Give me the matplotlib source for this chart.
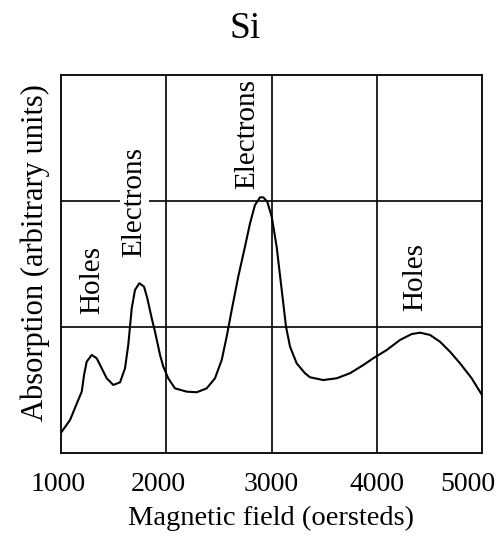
import matplotlib
matplotlib.use('Agg')

import matplotlib.pyplot as plt
import matplotlib.transforms as mtrans

# curve: magnetic field (oersteds) vs absorption (arb.)
field = [1000, 1086, 1164, 1197, 1219, 1244, 1292, 1339, 1387, 1434,
         1497, 1561, 1608, 1639, 1672, 1703, 1744, 1789, 1820, 1862,
         1893, 1941, 1972, 2019, 2083, 2194, 2289, 2384, 2463, 2527,
         2574, 2622, 2684, 2748, 2796, 2843, 2891, 2922, 2960, 3002,
         3049, 3097, 3138, 3176, 3239, 3318, 3366, 3492, 3619, 3746,
         3872, 3967, 4094, 4221, 4332, 4411, 4506, 4601, 4696, 4791,
         4902, 5000]
absorb = [0.161, 0.262, 0.421, 0.487, 0.619, 0.725, 0.778, 0.752, 0.672, 0.593,
          0.540, 0.561, 0.672, 0.857, 1.148, 1.294, 1.347, 1.320, 1.228, 1.069,
          0.963, 0.778, 0.685, 0.593, 0.513, 0.487, 0.482, 0.513, 0.593, 0.738,
          0.923, 1.135, 1.399, 1.637, 1.823, 1.968, 2.029, 2.029, 1.994, 1.875,
          1.637, 1.294, 1.002, 0.844, 0.712, 0.633, 0.601, 0.579, 0.593, 0.633,
          0.698, 0.752, 0.817, 0.897, 0.944, 0.955, 0.937, 0.883, 0.804, 0.712,
          0.593, 0.460]

xticks = [1000, 2000, 3000, 4000, 5000]
xtick_labels = ['1000', '2000', '3000', '4000', '5000']
ygrid = [1, 2]

labels = ['Holes', 'Electrons', 'Electrons', 'Holes']
label_x = [1295, 1694, 2767, 4363]
label_y = [1.37, 1.99, 2.53, 1.40]

plt.rcParams['font.family'] = ['Liberation Serif', 'DejaVu Serif']

fig = plt.figure(figsize=(5.0, 5.37), dpi=100)
ax = fig.add_axes([0.122, 0.1564, 0.842, 0.704])

ax.plot(field, absorb, 'k-', lw=1.5, solid_joinstyle='round')

ax.set_xlim(1000, 5000)
ax.set_ylim(0, 3)
for xv in xticks[1:-1]:
    ax.axvline(xv, color='k', lw=1.2)
for yv in ygrid:
    ax.axhline(yv, color='k', lw=1.2)
for s in ax.spines.values():
    s.set_linewidth(1.3)

for i in range(len(labels)):
    bb = None
    if i == 1:
        bb = dict(facecolor='white', edgecolor='none', pad=1)
    ax.text(label_x[i], label_y[i], labels[i], rotation=90, fontsize=21,
            ha='center', va='center', bbox=bb)

ax.set_xticks(xticks)
ax.set_xticklabels(xtick_labels)
ax.set_yticks([])
ax.tick_params(axis='x', length=0, pad=14, labelsize=20)

# nudge tick labels the way they sit in the original
shifts = [-3, -8, 0, 0, -14]
for lab, dx in zip(ax.get_xticklabels(), shifts):
    lab.set_transform(lab.get_transform() +
                      mtrans.ScaledTranslation(dx / 100.0, 0, fig.dpi_scale_trans))

ax.set_xlabel('Magnetic field (oersteds)', fontsize=20.5, labelpad=6)
ax.set_ylabel('Absorption (arbitrary units)', fontsize=22)
ax.yaxis.set_label_coords(-0.027, 0.53)

fig.text(0.49, 0.929, 'Si', ha='center', va='baseline', fontsize=27)

fig.savefig('out.png', dpi=100)
